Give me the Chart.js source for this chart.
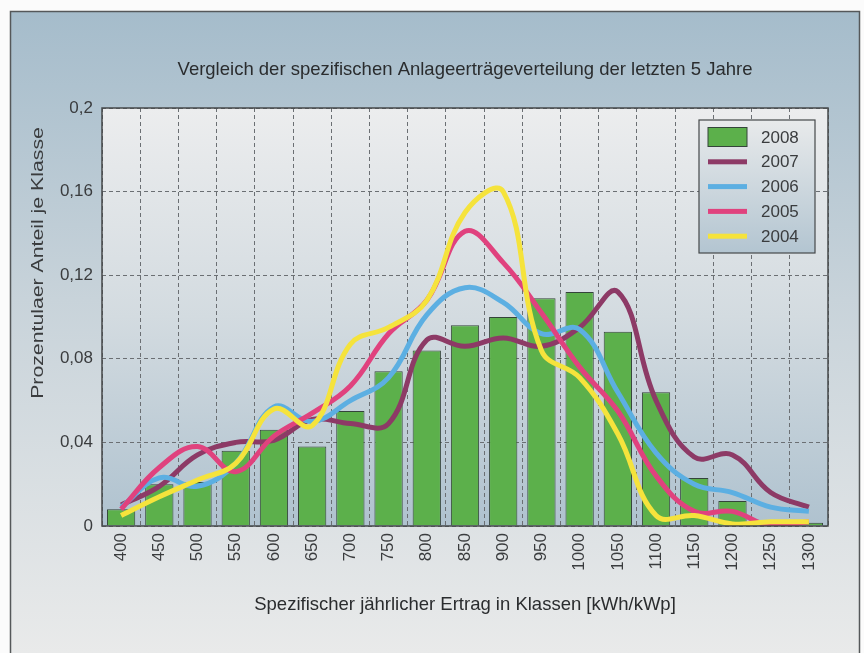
<!DOCTYPE html>
<html>
<head>
<meta charset="utf-8">
<script src="https://cdn.jsdelivr.net/npm/chart.js"></script>
<style>
  body { margin: 0; background: #fff; }
</style>
</head>
<body>
<canvas id="myChart" width="864" height="653"></canvas>
<script>
const classes = ['400', '450', '500', '550', '600', '650', '700', '750', '800', '850', '900', '950', '1000', '1050', '1100', '1150', '1200', '1250', '1300']
const yTicks = [0, 0.04, 0.08, 0.12, 0.16, 0.2]
const yTitle = 'Prozentulaer Anteil je Klasse'

const y2008 = [0.008, 0.020, 0.021, 0.036, 0.046, 0.038, 0.055, 0.074, 0.084, 0.096, 0.100, 0.109, 0.112, 0.093, 0.064, 0.023, 0.012, 0, 0.0015]
const y2007 = [0.010, 0.019, 0.034, 0.040, 0.041, 0.051, 0.049, 0.049, 0.089, 0.086, 0.090, 0.086, 0.095, 0.112, 0.060, 0.033, 0.034, 0.016, 0.009]
const y2006 = [0.009, 0.023, 0.019, 0.030, 0.057, 0.050, 0.060, 0.071, 0.101, 0.114, 0.107, 0.092, 0.094, 0.064, 0.035, 0.020, 0.016, 0.009, 0.007]
const y2005 = [0.008, 0.028, 0.038, 0.026, 0.043, 0.054, 0.067, 0.092, 0.108, 0.141, 0.126, 0.102, 0.076, 0.055, 0.024, 0.007, 0.007, 0, 0.002]
const y2004 = [0.005, 0.014, 0.022, 0.030, 0.056, 0.048, 0.087, 0.095, 0.108, 0.150, 0.160, 0.084, 0.071, 0.044, 0.005, 0.005, 0.001, 0.002, 0.002]

const font = 'Liberation Sans, Arial, sans-serif'
const txt = '#3a3c3e'

const line = (label, color, data, order) => ({
  type: 'line',
  label: label,
  data: data,
  borderColor: color,
  backgroundColor: color,
  borderWidth: 5,
  pointRadius: 0,
  tension: 0.4,
  fill: false,
  order: order
})

// page background, frame, plot fill, legend and y title
const backdrop = {
  id: 'backdrop',
  beforeDraw(chart) {
    const c = chart.ctx
    const a = chart.chartArea
    c.save()
    c.fillStyle = '#fbfbfb'
    c.fillRect(0, 0, chart.width, chart.height)
    let g = c.createLinearGradient(0, 11, 0, chart.height)
    g.addColorStop(0, '#a5bccb')
    g.addColorStop(0.45, '#c8d3da')
    g.addColorStop(1, '#e9eaea')
    c.fillStyle = g
    c.fillRect(10, 11, 850, chart.height)
    c.strokeStyle = '#55585a'
    c.lineWidth = 1.5
    c.beginPath()
    c.moveTo(10.5, chart.height)
    c.lineTo(10.5, 11.5)
    c.lineTo(859.5, 11.5)
    c.lineTo(859.5, chart.height)
    c.stroke()
    g = c.createLinearGradient(0, a.top, 0, a.bottom)
    g.addColorStop(0, '#ecedee')
    g.addColorStop(0.5, '#d3dbe0')
    g.addColorStop(1, '#afc2cf')
    c.fillStyle = g
    c.fillRect(a.left, a.top, a.width, a.height)

    // y axis title, a bit stretched along its length like the print
    c.translate(38, 263)
    c.rotate(-Math.PI / 2)
    c.scale(1.25, 1)
    c.font = '17px ' + font
    c.fillStyle = txt
    c.textAlign = 'center'
    c.textBaseline = 'middle'
    c.fillText(yTitle, 0, 0)
    c.restore()
  },
  afterDraw(chart) {
    const c = chart.ctx
    const a = chart.chartArea
    c.save()
    c.strokeStyle = '#45484a'
    c.lineWidth = 1.5
    c.strokeRect(a.left, a.top, a.width, a.height)

    // legend box inside the plot
    const x0 = 699, y0 = 120, w = 116, h = 133
    const g = c.createLinearGradient(0, y0, 0, y0 + h)
    g.addColorStop(0, '#e8eaeb')
    g.addColorStop(1, '#b3c5d1')
    c.fillStyle = g
    c.fillRect(x0, y0, w, h)
    c.strokeStyle = '#45484a'
    c.lineWidth = 1.2
    c.strokeRect(x0, y0, w, h)
    c.font = '17px ' + font
    c.textBaseline = 'middle'
    chart.data.datasets.forEach((ds, i) => {
      const cy = y0 + 17 + i * 24.8
      if (ds.type === 'bar') {
        c.fillStyle = ds.backgroundColor
        c.fillRect(x0 + 9, cy - 9.5, 39, 19)
        c.strokeStyle = ds.borderColor
        c.lineWidth = 1
        c.strokeRect(x0 + 9, cy - 9.5, 39, 19)
      } else {
        c.fillStyle = ds.borderColor
        c.fillRect(x0 + 9, cy - 2.5, 39, 5)
      }
      c.fillStyle = txt
      c.fillText(ds.label, x0 + 62, cy + 1)
    })
    c.restore()
  }
}

const ctx = document.getElementById('myChart')
const myChart = new Chart(ctx, {
  type: 'bar',
  data: {
    labels: classes,
    datasets: [
      {
        type: 'bar',
        label: '2008',
        data: y2008,
        backgroundColor: '#5cb04b',
        borderColor: '#34443a',
        borderWidth: 1,
        barPercentage: 0.74,
        categoryPercentage: 1,
        order: 10
      },
      line('2007', '#8d3a66', y2007, 4),
      line('2006', '#5cafe2', y2006, 3),
      line('2005', '#e0427e', y2005, 2),
      line('2004', '#f5e33c', y2004, 1)
    ]
  },
  options: {
    responsive: false,
    animation: false,
    devicePixelRatio: 1,
    layout: { padding: { left: 0, right: 36, top: 0, bottom: 0 } },
    plugins: {
      legend: { display: false },
      tooltip: { enabled: false },
      title: {
        display: true,
        fullSize: false,
        text: 'Vergleich der spezifischen Anlageerträgeverteilung der letzten 5 Jahre',
        color: '#2a2c2e',
        font: { family: font, size: 18.5, weight: 'normal', lineHeight: 1.2 },
        padding: { top: 58.9, bottom: 26.9 }
      }
    },
    scales: {
      x: {
        offset: true,
        grid: { offset: true, color: '#6b6f73', lineWidth: 1, drawTicks: false },
        border: { display: false, dash: [4, 3] },
        ticks: {
          color: txt,
          font: { family: font, size: 17 },
          minRotation: 90,
          maxRotation: 90,
          padding: 7,
          autoSkip: false
        },
        title: {
          display: true,
          text: 'Spezifischer jährlicher Ertrag in Klassen [kWh/kWp]',
          color: '#2a2c2e',
          font: { family: font, size: 18.5, lineHeight: 1.2 },
          padding: { top: 0, bottom: 36.9 }
        },
        afterFit: s => { s.height = 127 }
      },
      y: {
        min: 0,
        max: 0.2,
        afterBuildTicks: s => { s.ticks = yTicks.map(v => ({ value: v })) },
        grid: { color: '#6b6f73', lineWidth: 1, drawTicks: false },
        border: { display: false, dash: [4, 3] },
        ticks: {
          color: txt,
          font: { family: font, size: 17 },
          padding: 9,
          callback: v => String(Number(v.toFixed(2))).replace('.', ',')
        },
        afterFit: s => { s.width = 102 }
      }
    }
  },
  plugins: [backdrop]
})
</script>
</body>
</html>
